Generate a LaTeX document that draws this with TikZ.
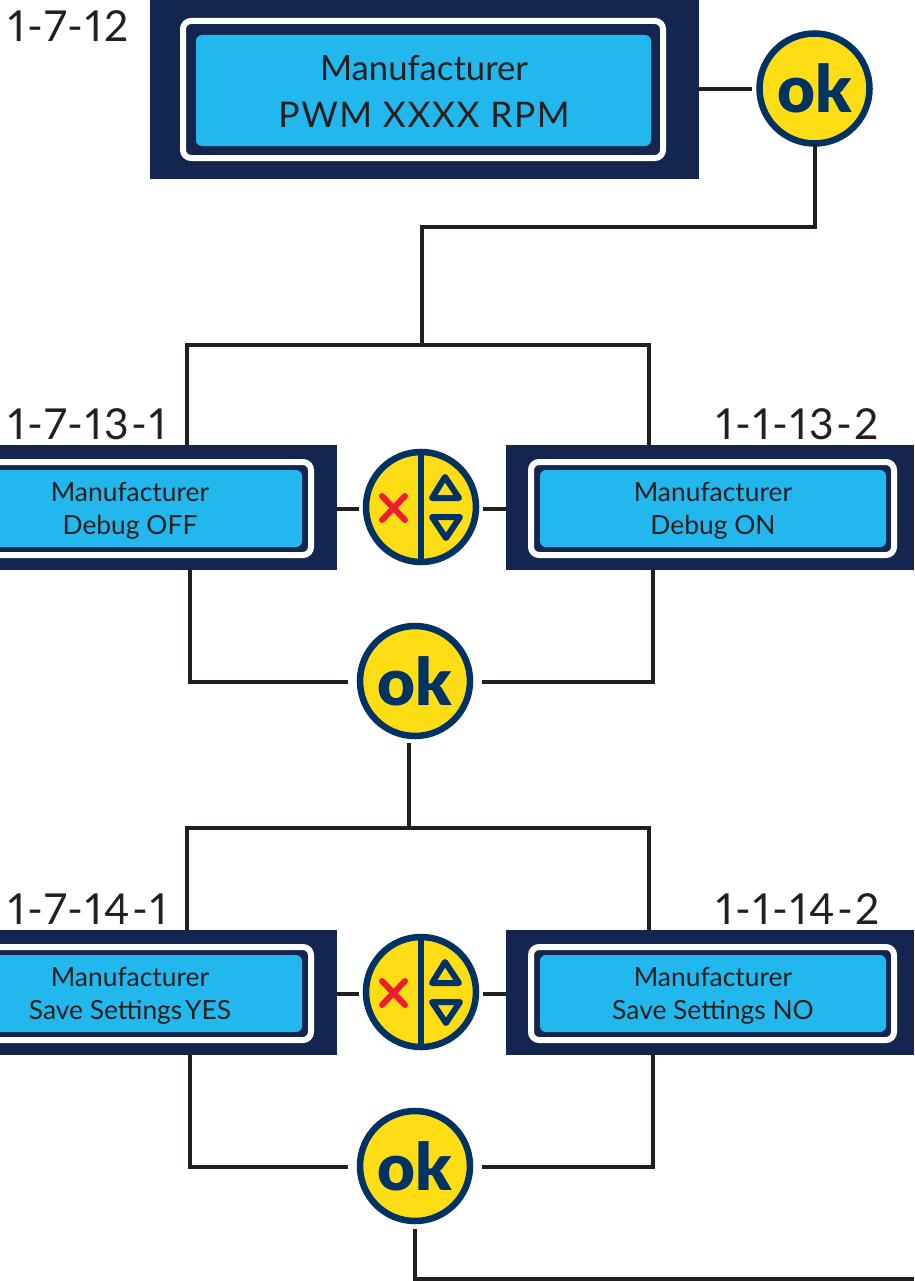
\documentclass[tikz,border=0pt]{standalone}
\usepackage{fontspec}
\setmainfont{Lato}
\newfontfamily\okfont{Lato}[UprightFont=* Black]
\newfontfamily\tagfont{Lato}[Numbers=Proportional,LetterSpace=5]
\definecolor{boxnavy}{HTML}{14264F}
\definecolor{lcdblue}{HTML}{22B8EE}
\definecolor{btnyellow}{HTML}{FFDD15}
\definecolor{btnnavy}{HTML}{003263}
\definecolor{xred}{HTML}{EE1C2E}
\definecolor{ink}{HTML}{231F20}
\newcommand{\okbtn}[3]{%
  \node[btn,font=\okfont\fontsize{49pt}{49pt}\selectfont,text=btnnavy] (#1) at (#2,#3) {ok};
}
\newcommand{\xbtn}[3]{%
  \node[btn] (#1) at (#2,#3) {};
  \draw[btnnavy,line width=4.5pt] (#2,#3-56) -- (#2,#3+56);
  \draw[xred,line width=4.5pt,line cap=round] (#2-39,#3-11) -- (#2-16,#3+13) (#2-39,#3+13) -- (#2-16,#3-11);
  \draw[btnnavy,line width=4.5pt,line join=round] (#2+11,#3-9) -- (#2+24,#3-30) -- (#2+38,#3-9) -- cycle;
  \draw[btnnavy,line width=4.5pt,line join=round] (#2+11,#3+10) -- (#2+25,#3+31) -- (#2+39,#3+10) -- cycle;
}
\tikzset{
  lcdback/.style={rectangle,fill=boxnavy,draw=none,inner sep=0pt,outer sep=0pt},
  lcdframe/.style={rectangle,rounded corners=6pt,draw=white,line width=4.5pt,fill=none,inner sep=0pt,outer sep=0pt},
  lcdscreen/.style={rectangle,rounded corners=4.5pt,fill=lcdblue,draw=none,inner sep=0pt,outer sep=0pt},
  lcdtext/.style={inner sep=0pt,outer sep=0pt,align=center,text=ink},
  btn/.style={circle,fill=btnyellow,draw=btnnavy,line width=4.9pt,minimum size=82.5pt,inner sep=0pt,outer sep=0pt},
  wire/.style={draw=ink,line width=3.4pt,line join=miter},
  tag/.style={font=\tagfont\fontsize{32pt}{32pt}\selectfont,text=ink,inner sep=0pt,anchor=base west},
  bigtext/.style={font=\fontsize{26pt}{35pt}\selectfont},
  smalltext/.style={font=\fontsize{19.8pt}{25pt}\selectfont},
}
\begin{document}
\begin{tikzpicture}[x=0.75pt,y=-0.75pt]
\useasboundingbox (0,0) rectangle (914,1281);
\clip (0,0) rectangle (914,1281);
% top display
\node[lcdback,minimum width=549*0.75pt,minimum height=179*0.75pt] (topbox) at (424.5,89.5) {};
\node[lcdframe,minimum width=480*0.75pt,minimum height=137*0.75pt] (topframe) at (423,89.5) {};
\node[lcdscreen,minimum width=455*0.75pt,minimum height=111*0.75pt] (topscreen) at (423.5,90.5) {};
\node[lcdtext,bigtext] (toptext) at (424,91.5) {Manufacturer\\{\addfontfeature{LetterSpace=4.6}\fontsize{26.5pt}{35pt}\selectfont PWM XXXX RPM}};
\node[tag] (tagtop) at (8,41.5) {1-7-12};
\okbtn{oktop}{814.5}{88.5}
% row 1
\node[lcdback,minimum width=414*0.75pt,minimum height=125*0.75pt] (boxa) at (130,507.5) {};
\node[lcdframe,minimum width=362*0.75pt,minimum height=93*0.75pt] (framea) at (130,508.5) {};
\node[lcdscreen,minimum width=344*0.75pt,minimum height=77*0.75pt] (screena) at (130,508.5) {};
\node[lcdtext,smalltext] (texta) at (130,510.5) {Manufacturer\\Debug OFF};
\node[lcdback,minimum width=408*0.75pt,minimum height=125*0.75pt] (boxb) at (710,507.5) {};
\node[lcdframe,minimum width=363*0.75pt,minimum height=93*0.75pt] (frameb) at (712.5,508.5) {};
\node[lcdscreen,minimum width=346*0.75pt,minimum height=77*0.75pt] (screenb) at (713,508.5) {};
\node[lcdtext,smalltext] (textb) at (713,510.5) {Manufacturer\\Debug ON};
\node[tag] (taga) at (8,439.5) {1-7-13-1};
\node[tag] (tagb) at (716,439.5) {1-1-13-2};
\xbtn{xa}{421}{507}
\okbtn{oka}{415}{681}
% row 2
\node[lcdback,minimum width=414*0.75pt,minimum height=125*0.75pt] (boxc) at (130,992.5) {};
\node[lcdframe,minimum width=362*0.75pt,minimum height=93*0.75pt] (framec) at (130,993.5) {};
\node[lcdscreen,minimum width=344*0.75pt,minimum height=77*0.75pt] (screenc) at (130,993.5) {};
\node[lcdtext,smalltext] (textc) at (130,995.5) {Manufacturer\\Save Settings\hspace{-3pt} YES};
\node[lcdback,minimum width=408*0.75pt,minimum height=125*0.75pt] (boxd) at (710,992.5) {};
\node[lcdframe,minimum width=363*0.75pt,minimum height=93*0.75pt] (framed) at (712.5,993.5) {};
\node[lcdscreen,minimum width=346*0.75pt,minimum height=77*0.75pt] (screend) at (713,993.5) {};
\node[lcdtext,smalltext] (textd) at (713,995.5) {Manufacturer\\Save Settings NO};
\node[tag] (tagc) at (8,924.5) {1-7-14-1};
\node[tag] (tagd) at (716,924.5) {1-1-14-2};
\xbtn{xb}{421}{992}
\okbtn{okb}{415}{1166}
% connectors
\coordinate (h0) at (0,89);
\coordinate (h1) at (0,509);
\coordinate (h2) at (0,994);
\draw[wire,shorten >=6pt] (topbox.east |- h0) -- (oktop.west |- h0);
\coordinate (t1) at (815,227);
\coordinate (t2) at (422,227);
\coordinate (j1) at (422,345);
\coordinate (jl1) at (187,345);
\coordinate (jr1) at (649,345);
\draw[wire] (oktop.south -| t1) -- (t1) -- (t2) -- (j1);
\draw[wire] (boxa.north -| jl1) -- (jl1) -- (jr1) -- (boxb.north -| jr1);
\coordinate (la) at (190,682);
\coordinate (ra) at (653,682);
\draw[wire,shorten >=9pt] (boxa.south -| la) -- (la) -- (oka.west |- la);
\draw[wire,shorten >=9pt] (boxb.south -| ra) -- (ra) -- (oka.east |- ra);
\coordinate (j2) at (409,828);
\coordinate (jl2) at (187,828);
\coordinate (jr2) at (649,828);
\draw[wire,shorten <=5pt] (oka.south -| j2) -- (j2);
\draw[wire] (boxc.north -| jl2) -- (jl2) -- (jr2) -- (boxd.north -| jr2);
\draw[wire,shorten >=5pt] (boxa.east |- h1) -- (xa.west |- h1);
\draw[wire,shorten >=5pt] (boxb.west |- h1) -- (xa.east |- h1);
\draw[wire,shorten >=5pt] (boxc.east |- h2) -- (xb.west |- h2);
\draw[wire,shorten >=5pt] (boxd.west |- h2) -- (xb.east |- h2);
\coordinate (lc) at (190,1167);
\coordinate (rc) at (653,1167);
\draw[wire,shorten >=9pt] (boxc.south -| lc) -- (lc) -- (okb.west |- lc);
\draw[wire,shorten >=9pt] (boxd.south -| rc) -- (rc) -- (okb.east |- rc);
\coordinate (b1) at (415,1279);
\coordinate (b2) at (914,1279);
\draw[wire,shorten <=6pt] (okb.south) -- (b1) -- (b2);
\end{tikzpicture}
\end{document}
